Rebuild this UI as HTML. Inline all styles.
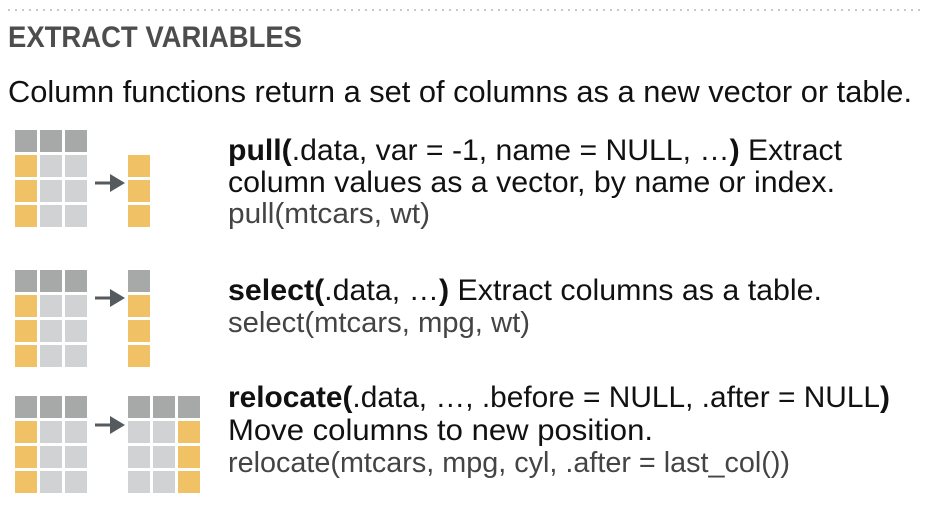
<!DOCTYPE html>
<html><head><meta charset="utf-8"><style>
html,body{margin:0;padding:0;background:#fff;width:930px;height:512px;overflow:hidden}
text{font-family:"Liberation Sans",sans-serif}
</style></head><body>
<svg width="930" height="512" viewBox="0 0 930 512" xmlns="http://www.w3.org/2000/svg">
<line x1="8" y1="10" x2="925" y2="10" stroke="#c8c8c8" stroke-width="2" stroke-dasharray="2,5"/>
<text x="8" y="47" font-size="30" font-weight="bold" fill="#4d4d4d" textLength="294" lengthAdjust="spacingAndGlyphs">EXTRACT VARIABLES</text>
<text x="8" y="102" font-size="31" fill="#111" textLength="904" lengthAdjust="spacingAndGlyphs">Column functions return a set of columns as a new vector or table.</text>
<defs>
<g id="tbl">
<rect x="0" y="0" width="22" height="22" fill="#a7a8a8"/><rect x="25" y="0" width="22" height="22" fill="#a7a8a8"/><rect x="50" y="0" width="22" height="22" fill="#a7a8a8"/>
<rect x="0" y="25" width="22" height="22" fill="#f1c265"/><rect x="25" y="25" width="22" height="22" fill="#d1d2d4"/><rect x="50" y="25" width="22" height="22" fill="#d1d2d4"/>
<rect x="0" y="50" width="22" height="22" fill="#f1c265"/><rect x="25" y="50" width="22" height="22" fill="#d1d2d4"/><rect x="50" y="50" width="22" height="22" fill="#d1d2d4"/>
<rect x="0" y="75" width="22" height="22" fill="#f1c265"/><rect x="25" y="75" width="22" height="22" fill="#d1d2d4"/><rect x="50" y="75" width="22" height="22" fill="#d1d2d4"/>
</g>
<g id="arr"><line x1="0" y1="0" x2="18" y2="0" stroke="#555a5f" stroke-width="3"/><polygon points="15,-9 30,0 15,9" fill="#555a5f"/></g>
</defs>
<use href="#tbl" x="15" y="130"/>
<use href="#arr" x="95" y="183"/>
<rect x="128" y="155" width="22" height="22" fill="#f1c265"/><rect x="128" y="180" width="22" height="22" fill="#f1c265"/><rect x="128" y="205" width="22" height="22" fill="#f1c265"/>
<text x="228" y="160" font-size="30" fill="#111" textLength="614" lengthAdjust="spacingAndGlyphs"><tspan font-weight="bold">pull(</tspan>.data,  var = -1, name = NULL, …<tspan font-weight="bold">)</tspan> Extract</text>
<text x="228" y="192" font-size="30" fill="#111" textLength="607" lengthAdjust="spacingAndGlyphs">column values as a vector, by name or index.</text>
<text x="228" y="223" font-size="29" fill="#444" textLength="202" lengthAdjust="spacingAndGlyphs">pull(mtcars, wt)</text>
<use href="#tbl" x="15" y="270"/>
<use href="#arr" x="95" y="298"/>
<rect x="128" y="270" width="22" height="22" fill="#a7a8a8"/><rect x="128" y="295" width="22" height="22" fill="#f1c265"/><rect x="128" y="320" width="22" height="22" fill="#f1c265"/><rect x="128" y="345" width="22" height="22" fill="#f1c265"/>
<text x="228" y="300" font-size="30" fill="#111" textLength="594" lengthAdjust="spacingAndGlyphs"><tspan font-weight="bold">select(</tspan>.data, …<tspan font-weight="bold">)</tspan> Extract columns as a table.</text>
<text x="228" y="332" font-size="29" fill="#444" textLength="302" lengthAdjust="spacingAndGlyphs">select(mtcars, mpg, wt)</text>
<use href="#tbl" x="15" y="396"/>
<use href="#arr" x="95" y="425"/>
<rect x="128" y="396" width="22" height="22" fill="#a7a8a8"/><rect x="153" y="396" width="22" height="22" fill="#a7a8a8"/><rect x="178" y="396" width="22" height="22" fill="#a7a8a8"/>
<rect x="128" y="421" width="22" height="22" fill="#d1d2d4"/><rect x="153" y="421" width="22" height="22" fill="#d1d2d4"/><rect x="178" y="421" width="22" height="22" fill="#f1c265"/>
<rect x="128" y="446" width="22" height="22" fill="#d1d2d4"/><rect x="153" y="446" width="22" height="22" fill="#d1d2d4"/><rect x="178" y="446" width="22" height="22" fill="#f1c265"/>
<rect x="128" y="471" width="22" height="22" fill="#d1d2d4"/><rect x="153" y="471" width="22" height="22" fill="#d1d2d4"/><rect x="178" y="471" width="22" height="22" fill="#f1c265"/>
<text x="228" y="407" font-size="30" fill="#111" textLength="662" lengthAdjust="spacingAndGlyphs"><tspan font-weight="bold">relocate(</tspan>.data, …, .before = NULL, .after = NULL<tspan font-weight="bold">)</tspan></text>
<text x="228" y="440" font-size="30" fill="#111" textLength="425" lengthAdjust="spacingAndGlyphs">Move columns to new position.</text>
<text x="228" y="472" font-size="29" fill="#444" textLength="562" lengthAdjust="spacingAndGlyphs">relocate(mtcars, mpg, cyl, .after = last_col())</text>
</svg>
</body></html>
